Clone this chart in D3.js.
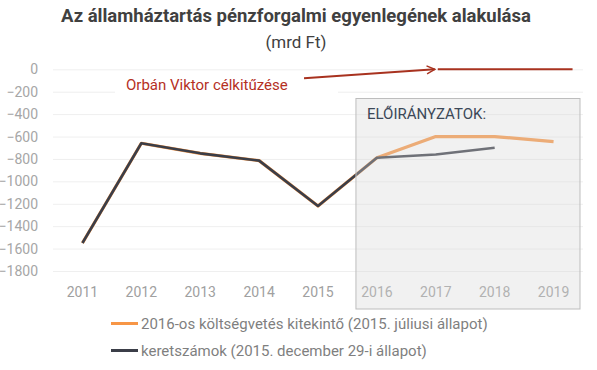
<!DOCTYPE html>
<html>
<head>
<meta charset="utf-8">
<script src="https://cdn.jsdelivr.net/npm/d3@7"></script>
<style>
  body { margin: 0; background: #fff; }
  svg { display: block; font-family: Roboto, "Noto Sans", sans-serif; }
</style>
</head>
<body>
<svg id="chart" width="597" height="370"></svg>
<script>
// years on the x axis
var years = ["2011", "2012", "2013", "2014", "2015", "2016", "2017", "2018", "2019"];
// 2016-os költségvetés kitekintő (2015. júliusi állapot)
var outlook = [-1550, -660, -750, -815, -1220, -790, -600, -600, -645];
// keretszámok (2015. december 29-i állapot) - no 2019 value
var frame = [-1550, -660, -750, -815, -1220, -790, -760, -700, null];
var yTicks = [0, -200, -400, -600, -800, -1000, -1200, -1400, -1600, -1800];
var forecastYears = ["2016", "2017", "2018", "2019"];
var targetYears = ["2017", "2019"];
var targetValue = 0;

var seriesNames = [
  "2016-os költségvetés kitekintő (2015. júliusi állapot)",
  "keretszámok (2015. december 29-i állapot)"
];
var colors = ["#f79646", "#3b3e48"];

var svg = d3.select("#chart");

var x = d3.scaleBand().domain(years).range([53, 583]);
var y = d3.scaleLinear().domain([-1800, 0]).range([271, 69.3]);
var cx = function(d) { return x(d) + x.bandwidth() / 2; };

// title
svg.append("text")
  .attr("x", 296).attr("y", 22)
  .attr("text-anchor", "middle")
  .attr("font-size", 18.5).attr("font-weight", "bold")
  .attr("fill", "#404040")
  .text("Az államháztartás pénzforgalmi egyenlegének alakulása");
svg.append("text")
  .attr("x", 296).attr("y", 48)
  .attr("text-anchor", "middle")
  .attr("font-size", 17)
  .attr("fill", "#404040")
  .text("(mrd Ft)");

// gridlines + y labels
var yAxis = svg.append("g")
  .attr("transform", "translate(53,0)")
  .call(d3.axisLeft(y).tickValues(yTicks).tickSize(-530).tickPadding(15).tickFormat(d3.format("d")));
yAxis.select(".domain").remove();
yAxis.selectAll(".tick line").attr("stroke", "#efefef");
yAxis.selectAll(".tick text")
  .attr("fill", "#a6a6a6").attr("font-size", 14)
  .attr("font-family", "Roboto, sans-serif");

// x labels
var xAxis = svg.append("g")
  .attr("transform", "translate(0,271)")
  .call(d3.axisBottom(x).tickSize(0).tickPadding(16));
xAxis.select(".domain").remove();
xAxis.selectAll(".tick text")
  .attr("fill", "#a0a0a0").attr("font-size", 14)
  .attr("font-family", "Roboto, sans-serif");

// lines
var line = d3.line()
  .defined(function(d) { return d.v !== null; })
  .x(function(d) { return cx(d.year); })
  .y(function(d) { return y(d.v); });

[outlook, frame].forEach(function(vals, i) {
  svg.append("path")
    .datum(years.map(function(yr, j) { return { year: yr, v: vals[j] }; }))
    .attr("fill", "none")
    .attr("stroke", colors[i])
    .attr("stroke-width", i === 0 ? 3.2 : 2.6)
    .attr("stroke-linejoin", "round")
    .attr("d", line);
});

// forecast box (semi transparent, over the lines)
var boxLeft = x(forecastYears[0]) + 8.5;
var boxRight = x(forecastYears[forecastYears.length - 1]) + x.bandwidth() - 3;
svg.append("rect")
  .attr("x", boxLeft).attr("y", 98.5)
  .attr("width", boxRight - boxLeft).attr("height", 210.5)
  .attr("fill", "#d6d6d6").attr("fill-opacity", 0.34)
  .attr("stroke", "#bdbdbd").attr("stroke-width", 1);
svg.append("text")
  .attr("x", boxLeft + 11).attr("y", 118.5)
  .attr("font-size", 15)
  .attr("fill", "#3c4858")
  .text("ELŐIRÁNYZATOK:");

// target annotation
var red = "#a8321f";
svg.append("rect")
  .attr("x", 115).attr("y", 78).attr("width", 223).attr("height", 18)
  .attr("fill", "#fff");
svg.append("text")
  .attr("x", 126).attr("y", 90)
  .attr("font-size", 15)
  .attr("fill", "#b5301f")
  .text("Orbán Viktor célkitűzése");

svg.append("defs").append("marker")
  .attr("id", "arr")
  .attr("viewBox", "0 0 10 10")
  .attr("refX", 9).attr("refY", 5)
  .attr("markerWidth", 5).attr("markerHeight", 5)
  .attr("markerUnits", "strokeWidth")
  .attr("orient", "auto")
  .append("path")
  .attr("d", "M1,1 L9,5 L1,9")
  .attr("fill", "none").attr("stroke", red).attr("stroke-width", 1.4);

svg.append("line")
  .attr("x1", 304).attr("y1", y(targetValue - 80))
  .attr("x2", cx(targetYears[0]) - 1).attr("y2", y(targetValue))
  .attr("stroke", red).attr("stroke-width", 2)
  .attr("marker-end", "url(#arr)");
svg.append("line")
  .attr("x1", cx(targetYears[0]) + 2).attr("y1", y(targetValue))
  .attr("x2", cx(targetYears[1]) + 19).attr("y2", y(targetValue))
  .attr("stroke", red).attr("stroke-width", 2);

// legend
var legend = svg.append("g").selectAll("g")
  .data(seriesNames)
  .join("g")
  .attr("transform", function(d, i) { return "translate(111," + (323.5 + i * 27) + ")"; });
legend.append("line")
  .attr("x1", 0).attr("x2", 27)
  .attr("stroke", function(d, i) { return colors[i]; })
  .attr("stroke-width", 3);
legend.append("text")
  .attr("x", 30).attr("y", 5.5)
  .attr("font-size", 15)
  .attr("fill", "#7f7f7f")
  .text(function(d) { return d; });
</script>
</body>
</html>
